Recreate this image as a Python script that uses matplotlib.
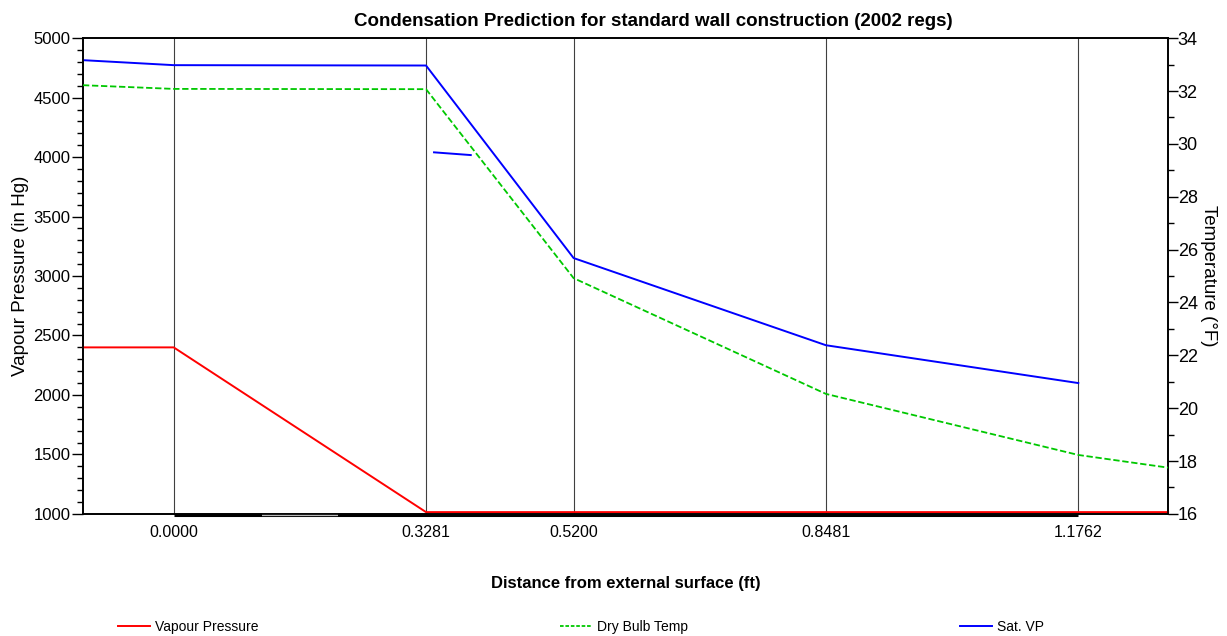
import matplotlib
matplotlib.use('Agg')
import matplotlib.pyplot as plt
from matplotlib.ticker import MultipleLocator
from matplotlib.lines import Line2D

plt.rcParams['font.family'] = ['Liberation Sans', 'DejaVu Sans']

# layer boundaries (ft from external surface)
positions = [0.0000, 0.3281, 0.5200, 0.8481, 1.1762]
pos_labels = ['0.0000', '0.3281', '0.5200', '0.8481', '1.1762']
x_left, x_right = -0.118, 1.293

# vapour pressure through the wall
vp_x = [x_left, 0.0000, 0.3281, 0.5200, 0.8481, 1.1762, x_right]
vp = [2400, 2400, 1015, 1015, 1015, 1015, 1015]

# saturated vapour pressure
sat_x = [x_left, 0.0000, 0.3281, 0.5200, 0.8481, 1.1762]
sat_vp = [4815, 4773, 4770, 3151, 2418, 2100]

# short stray segment of the sat VP trace
stub_x = [0.3385, 0.3863]
stub_vp = [4040, 4017]

# dry bulb temperature (right axis)
temp_x = [x_left, 0.0000, 0.3281, 0.5200, 0.8481, 1.1762, x_right]
temp = [32.22, 32.08, 32.07, 24.92, 20.54, 18.23, 17.75]

# condensation band along the base
band_x = [0.0000, 1.1762]
gap_x = [0.1146, 0.2135]

fig = plt.figure(figsize=(12.27, 6.36), dpi=100)
ax = fig.add_axes([0.0676, 0.192, 0.8844, 0.748])
ax2 = ax.twinx()

ax.set_xlim(x_left, x_right)
ax.set_ylim(1000, 5000)
ax2.set_ylim(16, 34)

for p in positions:
    ax.axvline(p, color='#404040', lw=0.8, zorder=1)

ax.plot(band_x, [992, 992], color='black', lw=2.2, solid_capstyle='butt', clip_on=False, zorder=3)
ax.plot(gap_x, [990, 990], color='#b8b8b8', lw=1.6, solid_capstyle='butt', clip_on=False, zorder=3)

red, = ax.plot(vp_x, vp, color='#ff0000', lw=1.4, zorder=4, clip_on=False)
blue, = ax.plot(sat_x, sat_vp, color='#0000ff', lw=1.4, zorder=4)
ax.plot(stub_x, stub_vp, color='#0000ff', lw=1.4, zorder=4)
green, = ax2.plot(temp_x, temp, color='#00c800', lw=1.3, ls=(0, (3.5, 1.5)), zorder=4)

ax.set_xticks(positions)
ax.set_xticklabels(pos_labels)
ax.tick_params(axis='x', length=0, pad=8, labelsize=11.5)
ax.yaxis.set_major_locator(MultipleLocator(500))
ax.yaxis.set_minor_locator(MultipleLocator(100))
ax.tick_params(axis='y', which='major', length=8, width=1, labelsize=12, pad=1)
ax.tick_params(axis='y', which='minor', length=4, width=1)
ax2.yaxis.set_major_locator(MultipleLocator(2))
ax2.yaxis.set_minor_locator(MultipleLocator(1))
ax2.tick_params(axis='y', which='major', length=7, width=1, labelsize=13, pad=0)
ax2.tick_params(axis='y', which='minor', length=4, width=1)

for a in (ax, ax2):
    for s in a.spines.values():
        s.set_linewidth(1.2)

ax.set_ylabel('Vapour Pressure (in Hg)', fontsize=13.5, labelpad=3)
ax2.set_ylabel('Temperature (°F)', fontsize=13.5, rotation=270, labelpad=14)
ax.set_xlabel('Distance from external surface (ft)', fontsize=12, fontweight='bold', labelpad=26)
ax.set_title('Condensation Prediction for standard wall construction (2002 regs)',
             fontsize=13.5, fontweight='bold', pad=9, x=0.526)

# one legend entry per slot along the bottom
entries = [(Line2D([], [], color='#ff0000', lw=1.4), 'Vapour Pressure', 0.0962),
           (Line2D([], [], color='#00c800', lw=1.3, ls=(0, (2, 1))), 'Dry Bulb Temp', 0.4564),
           (Line2D([], [], color='#0000ff', lw=1.4), 'Sat. VP', 0.7824)]
for h, lab, xa in entries:
    fig.legend([h], [lab], loc='center left', bbox_to_anchor=(xa, 0.014), frameon=False,
               fontsize=10, handlelength=2.3, handletextpad=0.35, borderpad=0, borderaxespad=0)

fig.savefig('out.png', dpi=100)
